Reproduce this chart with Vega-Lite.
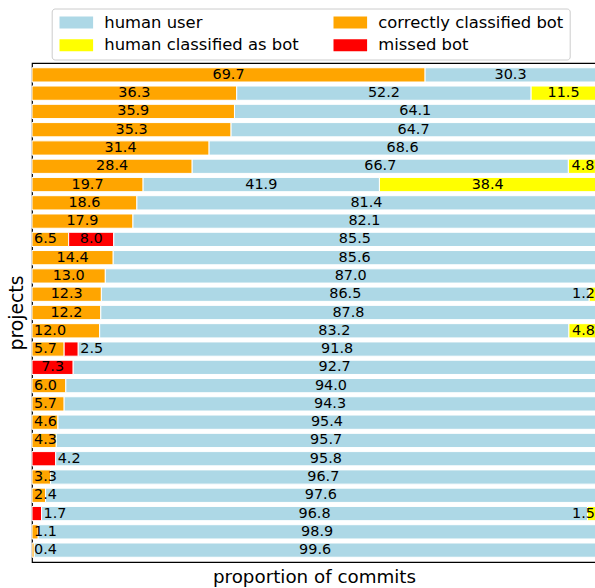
{
  "$schema": "https://vega.github.io/schema/vega-lite/v6.json",
  "autosize": {"type": "none"},
  "padding": {"left": 32, "top": 63, "right": 0, "bottom": 26},
  "width": 564,
  "height": 499,
  "config": {
    "font": "DejaVu Sans",
    "view": {"stroke": "black", "strokeWidth": 1.2},
    "axis": {"titleFont": "DejaVu Sans", "titleFontWeight": "normal", "titleColor": "black"},
    "legend": {"labelFont": "DejaVu Sans", "labelColor": "black"}
  },
  "data": {
    "values": [
      {"project": "p01", "category": "correctly classified bot", "value": 69.7},
      {"project": "p01", "category": "human user", "value": 30.3},
      {"project": "p02", "category": "correctly classified bot", "value": 36.3},
      {"project": "p02", "category": "human user", "value": 52.2},
      {"project": "p02", "category": "human classified as bot", "value": 11.5},
      {"project": "p03", "category": "correctly classified bot", "value": 35.9},
      {"project": "p03", "category": "human user", "value": 64.1},
      {"project": "p04", "category": "correctly classified bot", "value": 35.3},
      {"project": "p04", "category": "human user", "value": 64.7},
      {"project": "p05", "category": "correctly classified bot", "value": 31.4},
      {"project": "p05", "category": "human user", "value": 68.6},
      {"project": "p06", "category": "correctly classified bot", "value": 28.4},
      {"project": "p06", "category": "human user", "value": 66.7},
      {"project": "p06", "category": "human classified as bot", "value": 4.8},
      {"project": "p07", "category": "correctly classified bot", "value": 19.7},
      {"project": "p07", "category": "human user", "value": 41.9},
      {"project": "p07", "category": "human classified as bot", "value": 38.4},
      {"project": "p08", "category": "correctly classified bot", "value": 18.6},
      {"project": "p08", "category": "human user", "value": 81.4},
      {"project": "p09", "category": "correctly classified bot", "value": 17.9},
      {"project": "p09", "category": "human user", "value": 82.1},
      {"project": "p10", "category": "correctly classified bot", "value": 6.5},
      {"project": "p10", "category": "missed bot", "value": 8.0},
      {"project": "p10", "category": "human user", "value": 85.5},
      {"project": "p11", "category": "correctly classified bot", "value": 14.4},
      {"project": "p11", "category": "human user", "value": 85.6},
      {"project": "p12", "category": "correctly classified bot", "value": 13.0},
      {"project": "p12", "category": "human user", "value": 87.0},
      {"project": "p13", "category": "correctly classified bot", "value": 12.3},
      {"project": "p13", "category": "human user", "value": 86.5},
      {"project": "p13", "category": "human classified as bot", "value": 1.2},
      {"project": "p14", "category": "correctly classified bot", "value": 12.2},
      {"project": "p14", "category": "human user", "value": 87.8},
      {"project": "p15", "category": "correctly classified bot", "value": 12.0},
      {"project": "p15", "category": "human user", "value": 83.2},
      {"project": "p15", "category": "human classified as bot", "value": 4.8},
      {"project": "p16", "category": "correctly classified bot", "value": 5.7},
      {"project": "p16", "category": "missed bot", "value": 2.5},
      {"project": "p16", "category": "human user", "value": 91.8},
      {"project": "p17", "category": "missed bot", "value": 7.3},
      {"project": "p17", "category": "human user", "value": 92.7},
      {"project": "p18", "category": "correctly classified bot", "value": 6.0},
      {"project": "p18", "category": "human user", "value": 94.0},
      {"project": "p19", "category": "correctly classified bot", "value": 5.7},
      {"project": "p19", "category": "human user", "value": 94.3},
      {"project": "p20", "category": "correctly classified bot", "value": 4.6},
      {"project": "p20", "category": "human user", "value": 95.4},
      {"project": "p21", "category": "correctly classified bot", "value": 4.3},
      {"project": "p21", "category": "human user", "value": 95.7},
      {"project": "p22", "category": "missed bot", "value": 4.2},
      {"project": "p22", "category": "human user", "value": 95.8},
      {"project": "p23", "category": "correctly classified bot", "value": 3.3},
      {"project": "p23", "category": "human user", "value": 96.7},
      {"project": "p24", "category": "correctly classified bot", "value": 2.4},
      {"project": "p24", "category": "human user", "value": 97.6},
      {"project": "p25", "category": "missed bot", "value": 1.7},
      {"project": "p25", "category": "human user", "value": 96.8},
      {"project": "p25", "category": "human classified as bot", "value": 1.5},
      {"project": "p26", "category": "correctly classified bot", "value": 1.1},
      {"project": "p26", "category": "human user", "value": 98.9},
      {"project": "p27", "category": "correctly classified bot", "value": 0.4},
      {"project": "p27", "category": "human user", "value": 99.6}
    ]
  },
  "transform": [
    {"calculate": "indexof(['correctly classified bot','missed bot','human user','human classified as bot'], datum.category)", "as": "order"},
    {"stack": "value", "groupby": ["project"], "sort": [{"field": "order", "order": "ascending"}], "as": ["x0", "x1"]},
    {"calculate": "(datum.x0 + datum.x1) / 2", "as": "mid"},
    {"calculate": "(datum.category === 'correctly classified bot' && datum.value <= 12.05) ? 'startLeft' : (datum.category === 'missed bot' && datum.value < 5) ? 'endLeft' : (datum.category === 'human classified as bot' && datum.value < 5) ? 'endRight' : 'center'", "as": "place"}
  ],
  "encoding": {
    "y": {
      "field": "project",
      "type": "nominal",
      "sort": "ascending",
      "scale": {"paddingInner": 0.22, "paddingOuter": 0.26},
      "axis": {"title": "projects", "labels": false, "ticks": false, "domain": false, "titleFontSize": 18.8, "titlePadding": 6}
    }
  },
  "layer": [
    {
      "mark": {"type": "bar", "stroke": "white", "strokeWidth": 1, "opacity": 1},
      "encoding": {
        "x": {
          "field": "x0",
          "type": "quantitative",
          "scale": {"domain": [0, 100], "nice": false, "zero": false},
          "axis": {"title": "proportion of commits", "labels": false, "ticks": false, "domain": false, "grid": false, "titleFontSize": 18.3, "titlePadding": 6}
        },
        "x2": {"field": "x1"},
        "color": {
          "field": "category",
          "type": "nominal",
          "scale": {
            "domain": ["human user", "human classified as bot", "correctly classified bot", "missed bot"],
            "range": ["#add8e6", "#ffff00", "#ffa500", "#ff0000"]
          },
          "legend": {
            "title": null,
            "orient": "none",
            "legendX": 19.7,
            "legendY": -54.5,
            "columns": 2,
            "columnPadding": 32,
            "rowPadding": 6,
            "symbolType": "M-1,-1H4.6V1H-1Z",
            "symbolSize": 144,
            "symbolStrokeWidth": 0,
            "symbolOpacity": 1,
            "labelFontSize": 16.4,
            "labelOffset": 30.6,
            "labelLimit": 0,
            "padding": 5.6,
            "strokeColor": "#cccccc",
            "fillColor": "white",
            "cornerRadius": 3
          }
        }
      }
    },
    {
      "transform": [{"filter": "datum.place === 'center'"}],
      "mark": {"type": "text", "fontSize": 14.4, "color": "black", "baseline": "middle", "align": "center"},
      "encoding": {
        "x": {"field": "mid", "type": "quantitative"},
        "text": {"field": "value", "type": "quantitative", "format": ".1f"}
      }
    },
    {
      "transform": [{"filter": "datum.place === 'startLeft'"}],
      "mark": {"type": "text", "fontSize": 14.4, "color": "black", "baseline": "middle", "align": "left", "dx": 2},
      "encoding": {
        "x": {"field": "x0", "type": "quantitative"},
        "text": {"field": "value", "type": "quantitative", "format": ".1f"}
      }
    },
    {
      "transform": [{"filter": "datum.place === 'endLeft'"}],
      "mark": {"type": "text", "fontSize": 14.4, "color": "black", "baseline": "middle", "align": "left", "dx": 2},
      "encoding": {
        "x": {"field": "x1", "type": "quantitative"},
        "text": {"field": "value", "type": "quantitative", "format": ".1f"}
      }
    },
    {
      "transform": [{"filter": "datum.place === 'endRight'"}],
      "mark": {"type": "text", "fontSize": 14.4, "color": "black", "baseline": "middle", "align": "right", "dx": -1},
      "encoding": {
        "x": {"field": "x1", "type": "quantitative"},
        "text": {"field": "value", "type": "quantitative", "format": ".1f"}
      }
    }
  ]
}
